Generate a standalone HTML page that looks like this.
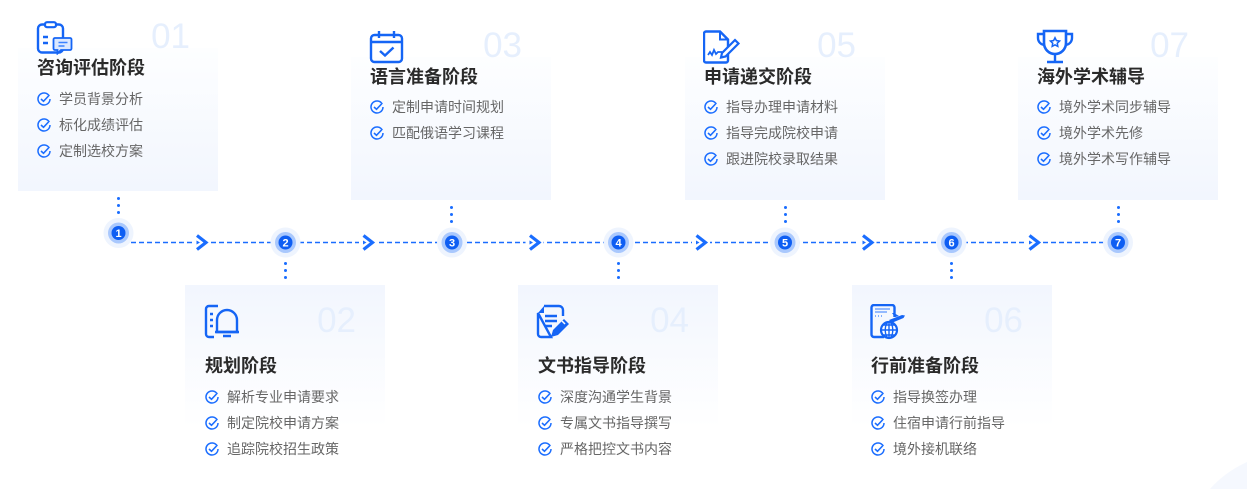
<!DOCTYPE html>
<html><head><meta charset="utf-8">
<style>
*{margin:0;padding:0;box-sizing:border-box}
html,body{width:1247px;height:489px;background:#fff;overflow:hidden;position:relative;font-family:"Liberation Sans","Noto Sans CJK SC",sans-serif}
.ct{position:absolute;width:200px;height:143px;background:linear-gradient(180deg,#fdfeff 0%,#f2f6fe 100%)}
.cb{position:absolute;width:200px;height:143px;background:linear-gradient(180deg,#f2f6fe 0%,#ffffff 100%)}
.num{position:absolute;font-family:"Liberation Sans",sans-serif;font-size:35px;line-height:35px;color:#e6effd;text-align:right;width:100px;font-weight:300}
.ttl{position:absolute;font-size:18px;line-height:24px;font-weight:bold;color:#2a2a2a;white-space:nowrap;font-family:"Liberation Sans","Noto Sans CJK SC",sans-serif}
.it{position:absolute;font-size:14px;line-height:26px;color:#666;white-space:nowrap;padding-left:22px}
.it svg{position:absolute;left:0;top:6px}
.ico{position:absolute}
.dots{position:absolute;width:3px}
.dots i{display:block;width:3px;height:3px;border-radius:50%;background:#1a6dff;margin-bottom:4px}
</style></head><body>

<!-- bottom-right decoration -->
<svg style="position:absolute;left:1180px;top:440px" width="67" height="49" viewBox="0 0 67 49"><path d="M30 49Q45 32 67 22V49z" fill="#f5f8fe"/></svg>

<!-- cards top -->
<div class="ct" style="left:18px;top:48px"></div>
<div class="ct" style="left:351px;top:57px"></div>
<div class="ct" style="left:685px;top:57px"></div>
<div class="ct" style="left:1018px;top:57px"></div>
<!-- cards bottom -->
<div class="cb" style="left:185px;top:285px"></div>
<div class="cb" style="left:518px;top:285px"></div>
<div class="cb" style="left:852px;top:285px"></div>

<!-- numbers -->
<div class="num" style="left:90px;top:19px">01</div>
<div class="num" style="left:422px;top:28px">03</div>
<div class="num" style="left:756px;top:28px">05</div>
<div class="num" style="left:1089px;top:28px">07</div>
<div class="num" style="left:256px;top:303px">02</div>
<div class="num" style="left:589px;top:303px">04</div>
<div class="num" style="left:923px;top:303px">06</div>

<!-- titles -->
<div class="ttl" style="left:37px;top:56px">咨询评估阶段</div>
<div class="ttl" style="left:370px;top:65px">语言准备阶段</div>
<div class="ttl" style="left:704px;top:65px">申请递交阶段</div>
<div class="ttl" style="left:1037px;top:65px">海外学术辅导</div>
<div class="ttl" style="left:205px;top:354px">规划阶段</div>
<div class="ttl" style="left:538px;top:354px">文书指导阶段</div>
<div class="ttl" style="left:871px;top:354px">行前准备阶段</div>

<!-- items card1 -->
<div class="it" style="left:37px;top:86px"><svg width="14" height="14" viewBox="0 0 14 14"><path d="M12.3 4.2A6 6 0 1 0 13 7" fill="none" stroke="#1a6dff" stroke-width="1.5"/><path d="M4 7l2.5 2.3L11.5 4" fill="none" stroke="#1a6dff" stroke-width="1.6"/></svg>学员背景分析</div>
<div class="it" style="left:37px;top:112px"><svg width="14" height="14" viewBox="0 0 14 14"><path d="M12.3 4.2A6 6 0 1 0 13 7" fill="none" stroke="#1a6dff" stroke-width="1.5"/><path d="M4 7l2.5 2.3L11.5 4" fill="none" stroke="#1a6dff" stroke-width="1.6"/></svg>标化成绩评估</div>
<div class="it" style="left:37px;top:138px"><svg width="14" height="14" viewBox="0 0 14 14"><path d="M12.3 4.2A6 6 0 1 0 13 7" fill="none" stroke="#1a6dff" stroke-width="1.5"/><path d="M4 7l2.5 2.3L11.5 4" fill="none" stroke="#1a6dff" stroke-width="1.6"/></svg>定制选校方案</div>
<!-- card3 -->
<div class="it" style="left:370px;top:94px"><svg width="14" height="14" viewBox="0 0 14 14"><path d="M12.3 4.2A6 6 0 1 0 13 7" fill="none" stroke="#1a6dff" stroke-width="1.5"/><path d="M4 7l2.5 2.3L11.5 4" fill="none" stroke="#1a6dff" stroke-width="1.6"/></svg>定制申请时间规划</div>
<div class="it" style="left:370px;top:120px"><svg width="14" height="14" viewBox="0 0 14 14"><path d="M12.3 4.2A6 6 0 1 0 13 7" fill="none" stroke="#1a6dff" stroke-width="1.5"/><path d="M4 7l2.5 2.3L11.5 4" fill="none" stroke="#1a6dff" stroke-width="1.6"/></svg>匹配俄语学习课程</div>
<!-- card5 -->
<div class="it" style="left:704px;top:94px"><svg width="14" height="14" viewBox="0 0 14 14"><path d="M12.3 4.2A6 6 0 1 0 13 7" fill="none" stroke="#1a6dff" stroke-width="1.5"/><path d="M4 7l2.5 2.3L11.5 4" fill="none" stroke="#1a6dff" stroke-width="1.6"/></svg>指导办理申请材料</div>
<div class="it" style="left:704px;top:120px"><svg width="14" height="14" viewBox="0 0 14 14"><path d="M12.3 4.2A6 6 0 1 0 13 7" fill="none" stroke="#1a6dff" stroke-width="1.5"/><path d="M4 7l2.5 2.3L11.5 4" fill="none" stroke="#1a6dff" stroke-width="1.6"/></svg>指导完成院校申请</div>
<div class="it" style="left:704px;top:146px"><svg width="14" height="14" viewBox="0 0 14 14"><path d="M12.3 4.2A6 6 0 1 0 13 7" fill="none" stroke="#1a6dff" stroke-width="1.5"/><path d="M4 7l2.5 2.3L11.5 4" fill="none" stroke="#1a6dff" stroke-width="1.6"/></svg>跟进院校录取结果</div>
<!-- card7 -->
<div class="it" style="left:1037px;top:94px"><svg width="14" height="14" viewBox="0 0 14 14"><path d="M12.3 4.2A6 6 0 1 0 13 7" fill="none" stroke="#1a6dff" stroke-width="1.5"/><path d="M4 7l2.5 2.3L11.5 4" fill="none" stroke="#1a6dff" stroke-width="1.6"/></svg>境外学术同步辅导</div>
<div class="it" style="left:1037px;top:120px"><svg width="14" height="14" viewBox="0 0 14 14"><path d="M12.3 4.2A6 6 0 1 0 13 7" fill="none" stroke="#1a6dff" stroke-width="1.5"/><path d="M4 7l2.5 2.3L11.5 4" fill="none" stroke="#1a6dff" stroke-width="1.6"/></svg>境外学术先修</div>
<div class="it" style="left:1037px;top:146px"><svg width="14" height="14" viewBox="0 0 14 14"><path d="M12.3 4.2A6 6 0 1 0 13 7" fill="none" stroke="#1a6dff" stroke-width="1.5"/><path d="M4 7l2.5 2.3L11.5 4" fill="none" stroke="#1a6dff" stroke-width="1.6"/></svg>境外学术写作辅导</div>
<!-- card2 -->
<div class="it" style="left:205px;top:384px"><svg width="14" height="14" viewBox="0 0 14 14"><path d="M12.3 4.2A6 6 0 1 0 13 7" fill="none" stroke="#1a6dff" stroke-width="1.5"/><path d="M4 7l2.5 2.3L11.5 4" fill="none" stroke="#1a6dff" stroke-width="1.6"/></svg>解析专业申请要求</div>
<div class="it" style="left:205px;top:410px"><svg width="14" height="14" viewBox="0 0 14 14"><path d="M12.3 4.2A6 6 0 1 0 13 7" fill="none" stroke="#1a6dff" stroke-width="1.5"/><path d="M4 7l2.5 2.3L11.5 4" fill="none" stroke="#1a6dff" stroke-width="1.6"/></svg>制定院校申请方案</div>
<div class="it" style="left:205px;top:436px"><svg width="14" height="14" viewBox="0 0 14 14"><path d="M12.3 4.2A6 6 0 1 0 13 7" fill="none" stroke="#1a6dff" stroke-width="1.5"/><path d="M4 7l2.5 2.3L11.5 4" fill="none" stroke="#1a6dff" stroke-width="1.6"/></svg>追踪院校招生政策</div>
<!-- card4 -->
<div class="it" style="left:538px;top:384px"><svg width="14" height="14" viewBox="0 0 14 14"><path d="M12.3 4.2A6 6 0 1 0 13 7" fill="none" stroke="#1a6dff" stroke-width="1.5"/><path d="M4 7l2.5 2.3L11.5 4" fill="none" stroke="#1a6dff" stroke-width="1.6"/></svg>深度沟通学生背景</div>
<div class="it" style="left:538px;top:410px"><svg width="14" height="14" viewBox="0 0 14 14"><path d="M12.3 4.2A6 6 0 1 0 13 7" fill="none" stroke="#1a6dff" stroke-width="1.5"/><path d="M4 7l2.5 2.3L11.5 4" fill="none" stroke="#1a6dff" stroke-width="1.6"/></svg>专属文书指导撰写</div>
<div class="it" style="left:538px;top:436px"><svg width="14" height="14" viewBox="0 0 14 14"><path d="M12.3 4.2A6 6 0 1 0 13 7" fill="none" stroke="#1a6dff" stroke-width="1.5"/><path d="M4 7l2.5 2.3L11.5 4" fill="none" stroke="#1a6dff" stroke-width="1.6"/></svg>严格把控文书内容</div>
<!-- card6 -->
<div class="it" style="left:871px;top:384px"><svg width="14" height="14" viewBox="0 0 14 14"><path d="M12.3 4.2A6 6 0 1 0 13 7" fill="none" stroke="#1a6dff" stroke-width="1.5"/><path d="M4 7l2.5 2.3L11.5 4" fill="none" stroke="#1a6dff" stroke-width="1.6"/></svg>指导换签办理</div>
<div class="it" style="left:871px;top:410px"><svg width="14" height="14" viewBox="0 0 14 14"><path d="M12.3 4.2A6 6 0 1 0 13 7" fill="none" stroke="#1a6dff" stroke-width="1.5"/><path d="M4 7l2.5 2.3L11.5 4" fill="none" stroke="#1a6dff" stroke-width="1.6"/></svg>住宿申请行前指导</div>
<div class="it" style="left:871px;top:436px"><svg width="14" height="14" viewBox="0 0 14 14"><path d="M12.3 4.2A6 6 0 1 0 13 7" fill="none" stroke="#1a6dff" stroke-width="1.5"/><path d="M4 7l2.5 2.3L11.5 4" fill="none" stroke="#1a6dff" stroke-width="1.6"/></svg>境外接机联络</div>

<!-- icons -->
<svg class="ico" style="left:36px;top:21px" width="37" height="34" viewBox="0 0 37 34">
<rect x="2" y="3.5" width="25" height="28" rx="4" fill="none" stroke="#1565f5" stroke-width="2.4"/>
<rect x="9" y="1.2" width="11" height="5" rx="2" fill="#fff" stroke="#1565f5" stroke-width="2.2"/>
<path d="M7 16h5M7 22h5" stroke="#1565f5" stroke-width="2.4"/>
<path d="M19 17h15a1.5 1.5 0 0 1 1.5 1.5v9a1.5 1.5 0 0 1-1.5 1.5h-9l-3.5 3.5v-3.5h-2.5a1.5 1.5 0 0 1-1.5-1.5v-9a1.5 1.5 0 0 1 1.5-1.5z" fill="#dbe8ff" stroke="#1565f5" stroke-width="1.8"/>
<path d="M22.5 21.5h9M22.5 25h6" stroke="#3b82ff" stroke-width="1.6"/>
</svg>
<svg class="ico" style="left:369px;top:30px" width="36" height="34" viewBox="0 0 36 34">
<rect x="2" y="5" width="31" height="27" rx="3.5" fill="none" stroke="#1565f5" stroke-width="2.4"/>
<path d="M2 12h31" stroke="#1565f5" stroke-width="2.4"/>
<path d="M10 1v7M25 1v7" stroke="#1565f5" stroke-width="2.4"/>
<path d="M11 21l5 4.5 8.5-8" fill="none" stroke="#1565f5" stroke-width="2.4"/>
</svg>
<svg class="ico" style="left:703px;top:30px" width="38" height="34" viewBox="0 0 38 34">
<path d="M3 1.5h14l8 8v21a2 2 0 0 1-2 2H3a2 2 0 0 1-2-2v-27a2 2 0 0 1 2-2z" fill="none" stroke="#1565f5" stroke-width="2.4"/>
<path d="M17 1.5v8h8" fill="none" stroke="#1565f5" stroke-width="2"/>
<path d="M5 25l2-3 2 3 2-5 2 4 2-2h4" fill="none" stroke="#1565f5" stroke-width="1.8"/>
<path d="M19 23l13-13 3.5 3.5-13 13-4.5 1z" fill="#fff" stroke="#1565f5" stroke-width="2.2"/>
</svg>
<svg class="ico" style="left:1036px;top:29px" width="38" height="35" viewBox="0 0 38 35">
<path d="M8 2h22v12a11 11 0 0 1-22 0z" fill="none" stroke="#1565f5" stroke-width="2.6"/>
<path d="M8 5H2v4a7 7 0 0 0 7 7M30 5h6v4a7 7 0 0 1-7 7" fill="none" stroke="#1565f5" stroke-width="2.4"/>
<path d="M19 25v7M11 33h16" stroke="#1565f5" stroke-width="2.4"/>
<path d="M19 7l1.9 3.9 4.3.6-3.1 3 .7 4.3-3.8-2-3.8 2 .7-4.3-3.1-3 4.3-.6z" fill="#1565f5"/>
<path d="M19 10.5l.9 1.8 2 .3-1.45 1.4.35 2-1.8-1-1.8 1 .35-2-1.45-1.4 2-.3z" fill="#fff"/>
</svg>
<svg class="ico" style="left:204px;top:304px" width="36" height="35" viewBox="0 0 36 35">
<path d="M14 2H5a3 3 0 0 0-3 3v25a3 3 0 0 0 3 3h5" fill="none" stroke="#1565f5" stroke-width="2.4"/>
<path d="M6 10h3M6 16h3M6 22h3" stroke="#1565f5" stroke-width="2.4"/>
<path d="M13 28v-12a10 10 0 0 1 20 0v12z" fill="none" stroke="#1565f5" stroke-width="2.4"/>
<path d="M11 28h24M19 32h8" stroke="#1565f5" stroke-width="2.4"/>
</svg>
<svg class="ico" style="left:536px;top:304px" width="34" height="35" viewBox="0 0 34 35">
<path d="M8 2h15a4 4 0 0 1 4 4v6M15 33H5a3 3 0 0 1-3-3V9z" fill="none" stroke="#1565f5" stroke-width="2.4"/>
<path d="M2 9l6-7v7z" fill="#1565f5"/>
<path d="M9 12h12M9 17h12M9 22h7" stroke="#1565f5" stroke-width="2.4"/>
<path d="M15 33l2-7 11-11 5 5-11 11z" fill="#1565f5"/>
<path d="M26 17l3 3" stroke="#fff" stroke-width="1.5"/>
</svg>
<svg class="ico" style="left:870px;top:304px" width="37" height="36" viewBox="0 0 37 36">
<path d="M14 33H4a2.5 2.5 0 0 1-2.5-2.5v-27A2.5 2.5 0 0 1 4 1h18a2.5 2.5 0 0 1 2.5 2.5V13" fill="none" stroke="#1565f5" stroke-width="2.4"/>
<path d="M5 5h15M5 8h12" stroke="#5b95ff" stroke-width="1.2"/>
<path d="M5 12h1M8 12h1M11 12h1" stroke="#5b95ff" stroke-width="1.4"/>
<path d="M19 16l13-5 3 .5-1.5 2.5-12 5z" fill="#1565f5"/>
<path d="M25 13l-3-4 2 0 5 3z" fill="#1565f5"/>
<circle cx="19" cy="26" r="8" fill="#fff" stroke="#1565f5" stroke-width="2.2"/>
<path d="M11 26h16M19 18v16M13 21h12M13 31h12" stroke="#1565f5" stroke-width="1.4"/>
<ellipse cx="19" cy="26" rx="3.8" ry="8" fill="none" stroke="#1565f5" stroke-width="1.4"/>
</svg>

<!-- dots -->
<div class="dots" style="left:117px;top:197px"><i></i><i></i><i></i></div>
<div class="dots" style="left:450px;top:206px"><i></i><i></i><i></i></div>
<div class="dots" style="left:784px;top:206px"><i></i><i></i><i></i></div>
<div class="dots" style="left:1117px;top:206px"><i></i><i></i><i></i></div>
<div class="dots" style="left:284px;top:262px"><i></i><i></i><i></i></div>
<div class="dots" style="left:617px;top:262px"><i></i><i></i><i></i></div>
<div class="dots" style="left:950px;top:262px"><i></i><i></i><i></i></div>

<!-- timeline -->
<svg style="position:absolute;left:0;top:0" width="1247" height="489" viewBox="0 0 1247 489">
<defs>
<g id="chev"><rect x="-9" y="-9" width="18" height="18" fill="#fff"/><path d="M-4.5 -7L4.5 0L-4.5 7" fill="none" stroke="#1a6dff" stroke-width="3.2" stroke-linejoin="miter"/><path d="M-5 -2L-1.5 0L-5 2z" fill="#1a6dff"/></g>
</defs>
<line x1="115" y1="242.5" x2="1118" y2="242.5" stroke="#1a6dff" stroke-width="1.6" stroke-dasharray="5 3"/>
<use href="#chev" x="201.5" y="242.5"/>
<use href="#chev" x="368" y="242.5"/>
<use href="#chev" x="534.5" y="242.5"/>
<use href="#chev" x="701" y="242.5"/>
<use href="#chev" x="867.5" y="242.5"/>
<use href="#chev" x="1034" y="242.5"/>
<g font-family="Liberation Sans, sans-serif" font-size="11" font-weight="bold" fill="#fff" text-anchor="middle">
<g transform="translate(118.5,233)"><circle r="15" fill="#eef4fe"/><circle r="10.5" fill="#a9c8fd"/><circle r="7" fill="#0e5ef3"/><text y="4">1</text></g>
<g transform="translate(285.5,242.5)"><circle r="15" fill="#eef4fe"/><circle r="10.5" fill="#a9c8fd"/><circle r="7" fill="#0e5ef3"/><text y="4">2</text></g>
<g transform="translate(452,242.5)"><circle r="15" fill="#eef4fe"/><circle r="10.5" fill="#a9c8fd"/><circle r="7" fill="#0e5ef3"/><text y="4">3</text></g>
<g transform="translate(618.5,242.5)"><circle r="15" fill="#eef4fe"/><circle r="10.5" fill="#a9c8fd"/><circle r="7" fill="#0e5ef3"/><text y="4">4</text></g>
<g transform="translate(785,242.5)"><circle r="15" fill="#eef4fe"/><circle r="10.5" fill="#a9c8fd"/><circle r="7" fill="#0e5ef3"/><text y="4">5</text></g>
<g transform="translate(951.5,242.5)"><circle r="15" fill="#eef4fe"/><circle r="10.5" fill="#a9c8fd"/><circle r="7" fill="#0e5ef3"/><text y="4">6</text></g>
<g transform="translate(1118,242.5)"><circle r="15" fill="#eef4fe"/><circle r="10.5" fill="#a9c8fd"/><circle r="7" fill="#0e5ef3"/><text y="4">7</text></g>
</g>
</svg>

</body></html>
